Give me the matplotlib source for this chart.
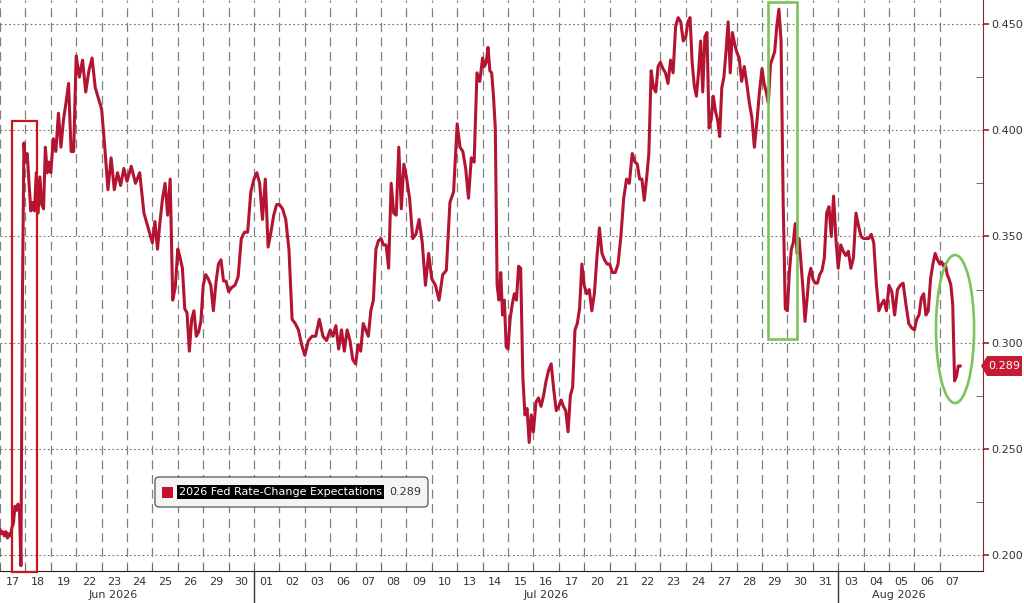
import matplotlib
matplotlib.use('Agg')
import matplotlib.pyplot as plt
import matplotlib.transforms as mtransforms
from matplotlib.patches import Rectangle, Ellipse, FancyBboxPatch, Polygon
import numpy as np

plt.rcParams['font.family'] = 'DejaVu Sans'
plt.rcParams['lines.scale_dashes'] = False

# trading days shown on the axis
jun_days = ['17', '18', '19', '22', '23', '24', '25', '26', '29', '30']
jul_days = ['01', '02', '03', '06', '07', '08', '09', '10', '13', '14', '15', '16',
            '17', '20', '21', '22', '23', '24', '27', '28', '29', '30', '31']
aug_days = ['03', '04', '05', '06', '07']
months = ['Jun 2026', 'Jul 2026', 'Aug 2026']

# intraday readings, one list per trading day
jun_vals = [
    [0.212, 0.210, 0.211, 0.209, 0.211, 0.208, 0.210, 0.209, 0.213, 0.215, 0.223, 0.221, 0.224,
     0.222, 0.195, 0.320, 0.394],
    [0.385, 0.389, 0.375, 0.362, 0.366, 0.362, 0.380, 0.361, 0.378, 0.365, 0.363, 0.392, 0.380, 0.385],
    [0.380, 0.396, 0.390, 0.408, 0.392, 0.405, 0.413, 0.422, 0.390, 0.390],
    [0.435, 0.425, 0.433, 0.418, 0.428, 0.434, 0.420, 0.415],
    [0.410, 0.392, 0.372, 0.387, 0.372, 0.380, 0.374, 0.382],
    [0.376, 0.383, 0.375, 0.380, 0.361, 0.354],
    [0.347, 0.357, 0.344, 0.357, 0.368, 0.375, 0.360, 0.377, 0.320, 0.326],
    [0.344, 0.340, 0.335, 0.316, 0.314, 0.296, 0.311, 0.315, 0.303, 0.305, 0.310],
    [0.327, 0.332, 0.330, 0.327, 0.315, 0.328, 0.337, 0.339, 0.329, 0.329],
    [0.324, 0.326, 0.327, 0.331, 0.349, 0.352, 0.352, 0.371],
]
jul_vals = [
    [0.377, 0.380, 0.375, 0.358, 0.377, 0.345, 0.352, 0.360, 0.365],
    [0.365, 0.363, 0.358, 0.344, 0.311, 0.309, 0.306, 0.299],
    [0.294, 0.301, 0.303, 0.303, 0.311, 0.303, 0.301],
    [0.306, 0.303, 0.308, 0.297, 0.306, 0.296, 0.306, 0.301, 0.292],
    [0.290, 0.299, 0.296, 0.309, 0.306, 0.303, 0.315, 0.320, 0.344, 0.348],
    [0.349, 0.346, 0.346, 0.335, 0.375, 0.361, 0.360, 0.392, 0.363, 0.384],
    [0.378, 0.368, 0.349, 0.351, 0.358, 0.347, 0.327, 0.342],
    [0.330, 0.327, 0.320, 0.332, 0.334, 0.366, 0.371],
    [0.403, 0.392, 0.390, 0.382, 0.368, 0.387, 0.385, 0.427, 0.423],
    [0.434, 0.430, 0.432, 0.439, 0.428, 0.427, 0.416, 0.401, 0.327, 0.320, 0.333, 0.313, 0.320, 0.298],
    [0.297, 0.311, 0.318, 0.323, 0.320, 0.336, 0.335, 0.284, 0.266, 0.269, 0.253, 0.266],
    [0.258, 0.272, 0.274, 0.270, 0.275, 0.282, 0.287, 0.290, 0.278, 0.268],
    [0.270, 0.273, 0.270, 0.268, 0.258, 0.275, 0.279, 0.306, 0.309, 0.316, 0.337],
    [0.327, 0.323, 0.325, 0.315, 0.323, 0.340, 0.354, 0.342, 0.339, 0.337],
    [0.337, 0.333, 0.333, 0.337, 0.350, 0.368, 0.377, 0.375, 0.389],
    [0.385, 0.384, 0.377, 0.377, 0.367, 0.377, 0.389, 0.428, 0.420, 0.418, 0.430],
    [0.432, 0.429, 0.427, 0.422, 0.433, 0.427, 0.449, 0.453, 0.451, 0.442],
    [0.444, 0.451, 0.453, 0.432, 0.421, 0.416, 0.427, 0.442, 0.418, 0.444, 0.446, 0.401],
    [0.405, 0.416, 0.409, 0.405, 0.397, 0.420, 0.425, 0.437, 0.451, 0.427, 0.446, 0.441],
    [0.437, 0.434, 0.423, 0.430, 0.422, 0.413, 0.406, 0.392, 0.404, 0.418],
    [0.429, 0.422, 0.418, 0.413, 0.431, 0.434, 0.437, 0.449, 0.457, 0.442, 0.366, 0.316],
    [0.315, 0.333, 0.344, 0.347, 0.356, 0.342, 0.349, 0.337, 0.325, 0.310, 0.320, 0.331, 0.335],
    [0.330, 0.328, 0.328, 0.332, 0.334, 0.340, 0.361, 0.364, 0.350, 0.369, 0.349],
]
aug_vals = [
    [0.335, 0.346, 0.343, 0.341, 0.343, 0.335, 0.340, 0.361, 0.355, 0.350],
    [0.349, 0.349, 0.349, 0.351, 0.347, 0.328, 0.315, 0.318, 0.320, 0.315],
    [0.327, 0.324, 0.313, 0.325, 0.327, 0.328, 0.318, 0.309, 0.307],
    [0.306, 0.311, 0.313, 0.321, 0.323, 0.313, 0.315, 0.330, 0.337, 0.342, 0.339],
    [0.337, 0.338, 0.336, 0.337, 0.332, 0.330, 0.327, 0.318, 0.282, 0.284, 0.289, 0.289],
]
last_day_frac = 0.8   # the last session is only partly done
series_name = '2026 Fed Rate-Change Expectations'

LINE = '#b31432'

day_labels = jun_days + jul_days + aug_days
values = jun_vals + jul_vals + aug_vals
xs, ys = [], []
for d, vals in enumerate(values):
    n = len(vals)
    if d == len(values) - 1:
        frac = np.arange(n) / (n - 1) * last_day_frac
    else:
        frac = np.arange(n) / n
    xs.extend(d + frac)
    ys.extend(vals)
last = ys[-1]
ndays = len(day_labels)

fig = plt.figure(figsize=(10.24, 6.03), dpi=100)
ax = fig.add_axes([0, 32 / 603, 983 / 1024, 571 / 603])
ax.set_xlim(0, 983 / 25.4)
ax.set_ylim(0.1925, 0.4613)

ax.plot(xs, ys, color=LINE, lw=2.2, solid_joinstyle='round', zorder=3)

# axes / grid
ax.set_xticks(np.arange(ndays) + 0.5)
ax.set_xticklabels(day_labels)
ax.set_xticks(np.arange(ndays), minor=True)
ax.tick_params(axis='x', which='major', length=0, pad=4, labelsize=8, labelcolor='#333333')
ax.tick_params(axis='x', which='minor', direction='in', length=4, color='#666666')
ax.xaxis.grid(True, which='minor', color='#808080', linestyle=(0, (6.5, 4)), lw=0.9)

ax.yaxis.tick_right()
ax.set_yticks(np.arange(0.20, 0.451, 0.05))
ax.set_yticks(np.arange(0.225, 0.45, 0.05), minor=True)
ax.yaxis.set_major_formatter(plt.FormatStrFormatter('%.3f'))
ax.tick_params(axis='y', which='major', direction='out', length=4, width=1.2,
               color='#a01c2c', labelsize=8, labelcolor='#333333', pad=2)
ax.tick_params(axis='y', which='minor', direction='in', length=5, color='#555555')
ax.yaxis.grid(True, which='major', color='#777777', linestyle=(0, (1.3, 1.8)), lw=0.8)

for s in ['left', 'top']:
    ax.spines[s].set_visible(False)
ax.spines['right'].set_color('#8c2330')
ax.spines['bottom'].set_color('#222222')

# month labels and separators
bt = mtransforms.blended_transform_factory(ax.transData, ax.transAxes)
month_pos = [4.45, 21.5, 35.4]
for name, xp in zip(months, month_pos):
    ax.text(xp, -0.042, name, transform=bt, ha='center', va='center',
            fontsize=8, color='#333333')
for xb in [len(jun_days), len(jun_days) + len(jul_days)]:
    ax.plot([xb, xb], [0, -0.06], transform=bt, color='#333333', lw=1, clip_on=False)

# highlight boxes
ax.add_patch(Rectangle((0.485, 0.1918), 0.99, 0.4043 - 0.1918, fill=False,
                       edgecolor='#c8161d', lw=1.6, clip_on=False, zorder=4))
ax.add_patch(Rectangle((30.25, 0.3017), 1.12, 0.4604 - 0.3017, fill=False,
                       edgecolor='#7dc35b', lw=1.9, zorder=4))
ax.add_patch(Ellipse((37.6, 0.3064), 1.5, 0.0697, fill=False,
                     edgecolor='#7dc35b', lw=1.9, zorder=4))

# legend
it = fig.dpi_scale_trans
fig.patches.append(FancyBboxPatch((1.55, 0.96), 2.73, 0.30,
                                  boxstyle='round,pad=0,rounding_size=0.04',
                                  transform=it, facecolor='#f4f4f4',
                                  edgecolor='#555555', lw=0.9, zorder=5))
fig.patches.append(Rectangle((1.62, 1.055), 0.11, 0.11, transform=it,
                             facecolor='#c8102e', edgecolor='none', zorder=6))
fig.text(1.79, 1.11, series_name, transform=it, ha='left', va='center', fontsize=8,
         color='white', zorder=7,
         bbox=dict(facecolor='black', edgecolor='none', pad=1.2))
fig.text(3.89, 1.11, f'{last:.3f}', transform=it, ha='left', va='center', fontsize=8,
         color='#333333', zorder=7)

# last value tag
tt = mtransforms.blended_transform_factory(it, ax.transData)
h = 0.0047
tag = Polygon([(9.81, last), (9.87, last + h), (10.22, last + h),
               (10.22, last - h), (9.87, last - h)], closed=True,
              transform=tt, facecolor='#c41a34', edgecolor='none', clip_on=False)
fig.patches.append(tag)
fig.text(10.04, last, f'{last:.3f}', transform=tt, ha='center', va='center',
         fontsize=8, color='white')

fig.savefig('out.png', dpi=100, facecolor='white')
